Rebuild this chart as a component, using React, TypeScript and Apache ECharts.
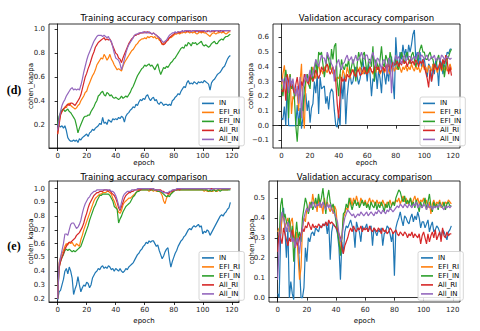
import React, { useEffect, useRef } from "react";
import * as echarts from "echarts";

const SERIES_NAMES = ["IN", "EFI_RI", "EFI_IN", "All_RI", "All_IN"];
const COLORS = ["#1f77b4", "#ff7f0e", "#2ca02c", "#d62728", "#9467bd"];
const X_TICKS = [0, 20, 40, 60, 80, 100, 120];

// (d) Training
const dTrainIN = [
  0.20,0.19,0.18,0.19,0.17,0.19,0.15,0.09,0.07,0.06,
  0.06,0.07,0.06,0.07,0.05,0.08,0.07,0.09,0.10,0.11,
  0.12,0.10,0.13,0.14,0.16,0.15,0.17,0.18,0.19,0.21,
  0.20,0.26,0.21,0.22,0.20,0.24,0.23,0.22,0.25,0.24,
  0.25,0.24,0.26,0.25,0.27,0.26,0.22,0.27,0.29,0.30,
  0.32,0.33,0.35,0.34,0.37,0.36,0.39,0.41,0.40,0.42,
  0.41,0.44,0.45,0.42,0.40,0.42,0.43,0.40,0.41,0.38,
  0.37,0.39,0.38,0.36,0.37,0.37,0.36,0.37,0.36,0.40,
  0.41,0.43,0.44,0.46,0.45,0.48,0.50,0.52,0.51,0.55,
  0.57,0.54,0.55,0.54,0.56,0.55,0.54,0.56,0.55,0.56,
  0.55,0.57,0.56,0.55,0.54,0.49,0.55,0.57,0.58,0.60,
  0.62,0.63,0.64,0.66,0.68,0.69,0.72,0.75,0.77,0.78,
];
const dTrainEFI_RI = [
  0.12,0.22,0.29,0.31,0.33,0.35,0.34,0.37,0.38,0.36,
  0.35,0.34,0.33,0.34,0.36,0.37,0.40,0.42,0.44,0.47,
  0.48,0.52,0.55,0.58,0.61,0.63,0.66,0.70,0.72,0.74,
  0.76,0.75,0.79,0.77,0.74,0.76,0.79,0.75,0.73,0.70,
  0.68,0.66,0.67,0.66,0.65,0.69,0.72,0.74,0.76,0.78,
  0.80,0.82,0.83,0.85,0.87,0.88,0.90,0.91,0.92,0.92,
  0.93,0.92,0.94,0.93,0.94,0.94,0.93,0.94,0.92,0.93,
  0.91,0.90,0.87,0.88,0.89,0.90,0.91,0.93,0.93,0.94,
  0.95,0.96,0.96,0.97,0.96,0.97,0.97,0.98,0.97,0.98,
  0.98,0.97,0.98,0.97,0.98,0.97,0.96,0.97,0.98,0.97,
  0.98,0.97,0.97,0.96,0.95,0.94,0.96,0.97,0.97,0.96,
  0.97,0.97,0.98,0.97,0.98,0.97,0.96,0.97,0.98,0.98,
];
const dTrainEFI_IN = [
  0.20,0.27,0.30,0.32,0.33,0.31,0.32,0.33,0.31,0.30,
  0.28,0.26,0.24,0.19,0.13,0.17,0.20,0.23,0.26,0.27,
  0.27,0.28,0.28,0.31,0.33,0.35,0.38,0.40,0.44,0.45,
  0.47,0.48,0.45,0.44,0.47,0.46,0.44,0.45,0.43,0.42,
  0.43,0.42,0.41,0.42,0.44,0.42,0.43,0.44,0.43,0.45,
  0.47,0.50,0.52,0.55,0.58,0.61,0.63,0.65,0.67,0.68,
  0.70,0.69,0.70,0.71,0.69,0.70,0.68,0.66,0.69,0.71,
  0.66,0.62,0.65,0.68,0.67,0.69,0.68,0.70,0.72,0.73,
  0.75,0.76,0.78,0.80,0.82,0.84,0.85,0.84,0.87,0.86,
  0.89,0.88,0.86,0.89,0.88,0.89,0.87,0.88,0.89,0.90,
  0.87,0.86,0.87,0.86,0.85,0.86,0.88,0.89,0.90,0.88,
  0.88,0.90,0.91,0.92,0.91,0.93,0.94,0.94,0.95,0.96,
];
const dTrainAll_RI = [
  0.12,0.20,0.28,0.31,0.33,0.34,0.36,0.37,0.36,0.38,
  0.38,0.37,0.36,0.38,0.40,0.42,0.45,0.50,0.55,0.60,
  0.63,0.67,0.70,0.74,0.78,0.81,0.85,0.87,0.89,0.90,
  0.91,0.92,0.93,0.91,0.92,0.91,0.92,0.89,0.86,0.83,
  0.80,0.79,0.76,0.75,0.72,0.76,0.79,0.82,0.85,0.88,
  0.90,0.92,0.93,0.95,0.95,0.96,0.96,0.97,0.97,0.97,
  0.98,0.97,0.98,0.97,0.97,0.96,0.97,0.96,0.95,0.94,
  0.93,0.90,0.88,0.87,0.88,0.90,0.91,0.93,0.94,0.95,
  0.96,0.97,0.97,0.98,0.97,0.98,0.98,0.98,0.99,0.98,
  0.98,0.99,0.98,0.99,0.99,0.98,0.99,0.98,0.99,0.98,
  0.98,0.99,0.98,0.98,0.99,0.98,0.98,0.99,0.98,0.99,
  0.99,0.98,0.99,0.99,0.98,0.99,0.99,0.99,0.99,0.99,
];
const dTrainAll_IN = [
  0.15,0.25,0.31,0.36,0.39,0.41,0.44,0.46,0.48,0.50,
  0.51,0.49,0.50,0.49,0.50,0.49,0.53,0.58,0.64,0.69,
  0.74,0.78,0.81,0.84,0.87,0.90,0.92,0.94,0.95,0.95,
  0.95,0.94,0.95,0.94,0.93,0.94,0.91,0.90,0.85,0.80,
  0.76,0.75,0.74,0.71,0.66,0.70,0.75,0.80,0.84,0.87,
  0.89,0.91,0.93,0.95,0.96,0.96,0.97,0.97,0.97,0.98,
  0.97,0.98,0.97,0.98,0.97,0.96,0.97,0.96,0.95,0.94,
  0.93,0.92,0.90,0.89,0.90,0.91,0.93,0.95,0.96,0.97,
  0.97,0.98,0.97,0.98,0.98,0.98,0.99,0.98,0.99,0.99,
  0.99,0.99,0.98,0.99,0.99,0.99,0.98,0.99,0.99,0.99,
  0.99,0.99,0.98,0.99,0.99,0.98,0.99,0.99,0.99,0.99,
  0.99,0.99,0.98,0.99,0.99,0.99,0.99,0.99,0.99,0.99,
];

// (d) Validation
const dValIN = [
  0.05,0.04,0.13,0.00,0.30,0.00,0.00,0.00,0.00,0.00,
  0.00,0.14,0.00,0.12,-0.02,0.05,0.20,0.22,0.10,0.17,
  0.02,0.12,0.15,0.30,0.22,0.35,0.08,0.33,0.25,0.26,
  0.27,0.15,0.20,0.11,0.22,0.25,0.23,0.10,0.00,-0.01,
  0.08,0.00,0.30,0.18,0.35,0.01,0.20,0.30,0.35,0.28,
  0.30,0.36,0.40,0.33,0.28,0.32,0.38,0.45,0.35,0.40,
  0.30,0.42,0.35,0.20,0.32,0.30,0.38,0.25,0.38,0.32,
  0.22,0.40,0.35,0.28,0.38,0.30,0.42,0.47,0.30,0.18,
  0.60,0.44,0.40,0.50,0.45,0.55,0.48,0.52,0.45,0.55,
  0.50,0.55,0.62,0.65,0.45,0.50,0.42,0.50,0.40,0.45,
  0.45,0.38,0.33,0.42,0.40,0.30,0.42,0.35,0.45,0.40,
  0.27,0.45,0.42,0.35,0.40,0.45,0.50,0.49,0.52,0.52,
];
const dValEFI_RI = [
  0.25,0.35,0.41,0.30,0.22,0.28,0.35,0.08,0.20,0.18,
  0.25,0.22,0.10,0.30,0.42,0.10,-0.02,0.30,0.35,0.32,
  0.30,0.36,0.40,0.35,0.32,0.38,0.42,0.36,0.38,0.35,
  0.40,0.38,0.36,0.40,0.42,0.38,0.35,0.38,0.30,0.33,
  0.32,0.35,0.30,0.38,0.35,0.32,0.40,0.36,0.32,0.38,
  0.38,0.34,0.35,0.40,0.37,0.40,0.36,0.35,0.38,0.35,
  0.38,0.36,0.40,0.37,0.35,0.39,0.36,0.40,0.38,0.35,
  0.37,0.40,0.36,0.38,0.42,0.37,0.35,0.39,0.40,0.37,
  0.40,0.38,0.42,0.39,0.36,0.40,0.38,0.41,0.37,0.40,
  0.38,0.42,0.39,0.37,0.41,0.38,0.40,0.36,0.39,0.42,
  0.38,0.40,0.36,0.41,0.39,0.37,0.42,0.38,0.40,0.36,
  0.39,0.42,0.37,0.40,0.38,0.41,0.37,0.39,0.42,0.38,
];
const dValEFI_IN = [
  0.28,0.20,0.30,0.38,0.30,0.05,0.35,0.25,0.28,0.20,
  0.00,-0.11,0.05,0.00,0.15,0.10,0.25,0.30,0.35,0.28,
  0.25,0.40,0.30,0.35,0.45,0.35,0.50,0.48,0.50,0.42,
  0.33,0.40,0.48,0.45,0.38,0.52,0.45,0.54,0.56,0.30,
  0.20,0.35,0.45,0.40,0.38,0.42,0.40,0.45,0.35,0.40,
  0.45,0.40,0.30,0.42,0.50,0.45,0.40,0.48,0.50,0.42,
  0.35,0.45,0.45,0.40,0.54,0.30,0.45,0.42,0.38,0.45,
  0.54,0.42,0.40,0.48,0.45,0.40,0.50,0.45,0.40,0.42,
  0.45,0.40,0.38,0.45,0.50,0.46,0.42,0.48,0.50,0.45,
  0.42,0.48,0.50,0.45,0.40,0.44,0.48,0.52,0.55,0.50,
  0.50,0.45,0.45,0.48,0.50,0.46,0.45,0.40,0.40,0.45,
  0.48,0.42,0.38,0.45,0.33,0.40,0.45,0.47,0.50,0.52,
];
const dValAll_RI = [
  0.24,0.23,0.30,0.17,0.35,0.30,0.26,0.30,0.25,0.22,
  0.28,0.33,0.25,0.20,0.30,0.27,0.35,0.32,0.30,0.28,
  0.35,0.32,0.30,0.33,0.38,0.35,0.32,0.35,0.40,0.38,
  0.37,0.40,0.42,0.38,0.35,0.37,0.40,0.36,0.30,0.15,
  0.05,0.20,0.33,0.30,0.32,0.30,0.35,0.33,0.34,0.36,
  0.38,0.35,0.33,0.37,0.38,0.34,0.35,0.38,0.40,0.36,
  0.35,0.38,0.40,0.37,0.36,0.39,0.42,0.38,0.40,0.36,
  0.38,0.40,0.37,0.41,0.39,0.42,0.38,0.40,0.43,0.41,
  0.42,0.44,0.40,0.43,0.41,0.45,0.42,0.44,0.40,0.43,
  0.45,0.42,0.44,0.41,0.45,0.43,0.40,0.44,0.42,0.45,
  0.40,0.36,0.32,0.26,0.38,0.30,0.35,0.42,0.40,0.38,
  0.40,0.43,0.38,0.45,0.42,0.48,0.44,0.35,0.40,0.34,
];
const dValAll_IN = [
  0.30,0.32,0.25,0.33,0.30,0.22,0.33,0.27,0.32,0.25,
  0.20,0.27,0.15,0.33,0.05,0.25,0.30,0.35,0.30,0.33,
  0.38,0.33,0.35,0.40,0.45,0.42,0.40,0.44,0.48,0.46,
  0.46,0.42,0.50,0.47,0.45,0.42,0.40,0.30,0.40,0.43,
  0.45,0.40,0.38,0.42,0.43,0.46,0.48,0.44,0.45,0.47,
  0.42,0.45,0.48,0.44,0.45,0.47,0.50,0.46,0.45,0.48,
  0.48,0.44,0.42,0.47,0.50,0.45,0.40,0.46,0.45,0.42,
  0.38,0.44,0.45,0.42,0.35,0.46,0.45,0.22,0.40,0.44,
  0.48,0.45,0.47,0.45,0.42,0.46,0.48,0.44,0.45,0.47,
  0.47,0.44,0.46,0.47,0.45,0.48,0.50,0.46,0.48,0.47,
  0.45,0.47,0.48,0.44,0.45,0.47,0.46,0.48,0.44,0.46,
  0.46,0.44,0.48,0.47,0.45,0.46,0.47,0.46,0.45,0.46,
];

// (e) Training
const eTrainIN = [
  0.19,0.25,0.26,0.30,0.34,0.40,0.42,0.38,0.43,0.40,
  0.35,0.23,0.27,0.30,0.36,0.30,0.25,0.28,0.30,0.29,
  0.32,0.31,0.28,0.30,0.35,0.37,0.39,0.40,0.42,0.41,
  0.43,0.44,0.42,0.43,0.42,0.44,0.43,0.41,0.42,0.40,
  0.42,0.41,0.40,0.42,0.40,0.39,0.40,0.42,0.41,0.43,
  0.44,0.45,0.46,0.48,0.50,0.52,0.53,0.55,0.56,0.58,
  0.59,0.61,0.60,0.62,0.61,0.62,0.62,0.60,0.58,0.59,
  0.55,0.52,0.49,0.51,0.54,0.56,0.57,0.49,0.43,0.47,
  0.50,0.53,0.55,0.58,0.60,0.62,0.63,0.65,0.66,0.68,
  0.70,0.71,0.70,0.72,0.73,0.72,0.73,0.74,0.72,0.73,
  0.67,0.69,0.68,0.70,0.69,0.66,0.68,0.70,0.72,0.74,
  0.76,0.78,0.80,0.81,0.80,0.82,0.83,0.85,0.86,0.90,
];
const eTrainEFI_RI = [
  0.20,0.46,0.50,0.53,0.55,0.58,0.60,0.59,0.61,0.60,
  0.61,0.59,0.58,0.60,0.59,0.58,0.63,0.66,0.70,0.73,
  0.76,0.79,0.82,0.85,0.88,0.91,0.93,0.94,0.95,0.96,
  0.96,0.97,0.97,0.97,0.98,0.98,0.97,0.96,0.93,0.91,
  0.88,0.85,0.83,0.82,0.84,0.88,0.90,0.91,0.92,0.93,
  0.93,0.94,0.95,0.96,0.97,0.98,0.99,0.99,0.99,0.99,
  0.99,0.99,0.99,0.98,0.99,0.99,0.98,0.99,0.98,0.98,
  0.98,0.97,0.95,0.91,0.89,0.93,0.95,0.96,0.96,0.98,
  0.98,0.99,0.99,0.99,0.99,0.99,0.99,0.99,0.99,0.99,
  0.99,0.99,0.99,0.99,0.99,0.99,0.99,0.99,0.99,0.99,
  0.99,0.98,0.99,0.98,0.98,0.98,0.98,0.98,0.99,0.98,
  0.98,0.99,0.99,0.99,0.99,0.99,0.99,0.99,1.00,1.00,
];
const eTrainEFI_IN = [
  0.20,0.43,0.47,0.50,0.52,0.55,0.56,0.55,0.56,0.55,
  0.54,0.55,0.54,0.55,0.56,0.57,0.58,0.61,0.64,0.67,
  0.70,0.73,0.77,0.80,0.83,0.86,0.88,0.91,0.93,0.95,
  0.95,0.96,0.96,0.96,0.96,0.96,0.95,0.93,0.91,0.87,
  0.86,0.85,0.75,0.78,0.80,0.83,0.85,0.87,0.88,0.89,
  0.90,0.92,0.94,0.95,0.97,0.98,0.98,0.99,0.99,0.99,
  0.99,0.99,0.99,0.99,0.99,0.99,0.99,0.99,0.99,0.98,
  0.98,0.98,0.97,0.96,0.95,0.94,0.95,0.94,0.96,0.97,
  0.98,0.99,0.99,0.99,0.99,0.99,0.99,0.99,0.99,0.99,
  0.99,0.99,0.99,0.99,0.99,0.99,0.99,0.99,0.99,0.99,
  0.99,0.99,0.99,0.99,0.98,0.99,0.98,0.99,0.99,0.98,
  0.99,0.99,0.98,0.99,0.99,0.99,0.99,0.99,0.99,0.99,
];
const eTrainAll_RI = [
  0.20,0.42,0.47,0.50,0.53,0.56,0.58,0.60,0.61,0.61,
  0.62,0.63,0.64,0.66,0.67,0.68,0.70,0.72,0.75,0.79,
  0.82,0.86,0.89,0.91,0.93,0.95,0.96,0.97,0.97,0.98,
  0.98,0.98,0.99,0.99,0.99,0.98,0.99,0.97,0.96,0.95,
  0.93,0.90,0.86,0.84,0.87,0.90,0.93,0.95,0.96,0.97,
  0.97,0.98,0.98,0.99,0.99,0.99,0.99,0.99,1.00,1.00,
  1.00,1.00,1.00,1.00,0.99,1.00,1.00,0.99,0.99,0.99,
  0.99,0.99,0.98,0.98,0.97,0.97,0.96,0.97,0.98,0.98,
  0.99,0.99,0.99,1.00,0.99,1.00,1.00,1.00,1.00,1.00,
  1.00,1.00,1.00,1.00,1.00,1.00,1.00,1.00,1.00,1.00,
  1.00,1.00,1.00,1.00,1.00,1.00,1.00,1.00,1.00,1.00,
  1.00,1.00,1.00,1.00,1.00,1.00,1.00,1.00,1.00,1.00,
];
const eTrainAll_IN = [
  0.20,0.45,0.50,0.55,0.60,0.67,0.67,0.66,0.70,0.74,
  0.75,0.75,0.73,0.71,0.72,0.74,0.77,0.82,0.86,0.89,
  0.91,0.93,0.94,0.96,0.97,0.98,0.98,0.99,0.99,0.99,
  0.99,0.99,0.99,0.99,0.99,0.99,0.99,0.98,0.98,0.97,
  0.95,0.92,0.88,0.85,0.90,0.94,0.96,0.97,0.98,0.98,
  0.98,0.99,0.99,0.99,0.99,1.00,1.00,1.00,1.00,1.00,
  1.00,1.00,1.00,1.00,1.00,1.00,1.00,0.99,0.99,0.99,
  0.99,0.98,0.98,0.97,0.97,0.97,0.97,0.98,0.98,0.99,
  0.99,0.99,1.00,1.00,1.00,1.00,1.00,1.00,1.00,1.00,
  1.00,1.00,1.00,1.00,1.00,1.00,1.00,1.00,1.00,1.00,
  1.00,1.00,1.00,1.00,1.00,1.00,0.99,1.00,1.00,1.00,
  1.00,1.00,1.00,1.00,1.00,1.00,1.00,1.00,1.00,1.00,
];

// (e) Validation
const eValIN = [
  0.02,0.00,0.30,0.42,0.45,0.33,0.20,0.35,0.00,0.08,
  0.02,-0.01,0.30,0.28,0.30,0.15,0.00,0.00,0.05,0.25,
  0.18,0.30,0.28,0.32,0.33,0.31,0.35,0.34,0.33,0.36,
  0.35,0.37,0.36,0.38,0.32,0.38,0.19,0.33,0.37,0.36,
  0.35,0.32,0.25,0.09,0.28,0.22,0.33,0.36,0.35,0.37,
  0.39,0.36,0.34,0.25,0.38,0.35,0.33,0.28,0.36,0.34,
  0.35,0.37,0.33,0.35,0.36,0.26,0.35,0.33,0.31,0.34,
  0.33,0.35,0.26,0.32,0.33,0.36,0.35,0.32,0.28,0.33,
  0.11,0.35,0.38,0.40,0.43,0.39,0.36,0.41,0.40,0.38,
  0.37,0.40,0.42,0.38,0.41,0.39,0.43,0.40,0.35,0.38,
  0.38,0.35,0.37,0.39,0.33,0.36,0.38,0.33,0.34,0.36,
  0.35,0.33,0.30,0.34,0.33,0.31,0.29,0.33,0.34,0.36,
];
const eValEFI_RI = [
  0.33,0.35,0.32,0.40,0.42,0.35,0.38,0.40,0.33,0.38,
  0.40,0.32,0.28,0.33,0.20,0.09,0.15,0.35,0.40,0.38,
  0.45,0.43,0.48,0.45,0.52,0.47,0.48,0.43,0.50,0.45,
  0.47,0.42,0.50,0.45,0.48,0.45,0.43,0.46,0.42,0.46,
  0.44,0.35,0.30,0.22,0.30,0.40,0.42,0.45,0.44,0.47,
  0.50,0.46,0.50,0.47,0.51,0.48,0.46,0.50,0.48,0.47,
  0.49,0.46,0.48,0.50,0.47,0.49,0.48,0.46,0.49,0.47,
  0.48,0.46,0.49,0.47,0.45,0.48,0.47,0.49,0.46,0.48,
  0.47,0.49,0.48,0.50,0.47,0.49,0.51,0.48,0.50,0.47,
  0.48,0.50,0.47,0.49,0.51,0.48,0.50,0.47,0.49,0.48,
  0.50,0.47,0.49,0.45,0.48,0.42,0.47,0.49,0.46,0.48,
  0.47,0.49,0.45,0.48,0.46,0.48,0.47,0.49,0.48,0.47,
];
const eValEFI_IN = [
  0.31,0.30,0.46,0.50,0.40,0.42,0.38,0.36,0.40,0.30,
  0.36,0.18,0.30,0.38,0.30,0.33,0.28,0.40,0.45,0.50,
  0.47,0.42,0.45,0.48,0.44,0.46,0.50,0.46,0.52,0.47,
  0.50,0.55,0.48,0.42,0.50,0.54,0.48,0.45,0.47,0.43,
  0.38,0.33,0.28,0.21,0.30,0.42,0.43,0.47,0.45,0.50,
  0.47,0.44,0.47,0.49,0.46,0.48,0.45,0.47,0.49,0.46,
  0.48,0.45,0.47,0.44,0.48,0.46,0.45,0.48,0.44,0.47,
  0.45,0.48,0.46,0.43,0.47,0.45,0.48,0.44,0.46,0.48,
  0.46,0.50,0.52,0.54,0.53,0.50,0.48,0.51,0.47,0.49,
  0.47,0.50,0.46,0.48,0.45,0.49,0.46,0.43,0.48,0.45,
  0.47,0.50,0.44,0.48,0.52,0.46,0.43,0.48,0.45,0.47,
  0.44,0.48,0.46,0.45,0.48,0.44,0.47,0.48,0.46,0.46,
];
const eValAll_RI = [
  0.23,0.33,0.30,0.27,0.35,0.32,0.29,0.26,0.30,0.28,
  0.34,0.30,0.25,0.28,0.26,0.30,0.32,0.35,0.33,0.36,
  0.35,0.38,0.36,0.34,0.37,0.35,0.36,0.35,0.37,0.36,
  0.35,0.37,0.36,0.38,0.36,0.39,0.37,0.38,0.37,0.36,
  0.35,0.34,0.32,0.30,0.25,0.22,0.26,0.28,0.30,0.33,
  0.35,0.33,0.36,0.34,0.33,0.35,0.34,0.36,0.33,0.35,
  0.34,0.35,0.33,0.36,0.34,0.33,0.35,0.34,0.33,0.35,
  0.34,0.32,0.35,0.33,0.34,0.32,0.33,0.35,0.34,0.32,
  0.33,0.34,0.32,0.31,0.33,0.32,0.31,0.33,0.32,0.30,
  0.32,0.31,0.33,0.30,0.32,0.31,0.30,0.32,0.27,0.31,
  0.33,0.30,0.27,0.32,0.28,0.31,0.33,0.30,0.34,0.29,
  0.31,0.33,0.28,0.35,0.31,0.30,0.33,0.31,0.32,0.32,
];
const eValAll_IN = [
  0.09,0.25,0.38,0.43,0.40,0.37,0.33,0.38,0.35,0.32,
  0.28,0.30,0.25,0.30,0.28,0.22,0.30,0.35,0.40,0.43,
  0.45,0.43,0.47,0.45,0.48,0.47,0.45,0.47,0.46,0.48,
  0.45,0.48,0.46,0.44,0.47,0.45,0.47,0.44,0.43,0.42,
  0.40,0.38,0.32,0.28,0.30,0.36,0.40,0.42,0.44,0.43,
  0.42,0.41,0.42,0.40,0.41,0.42,0.41,0.43,0.42,0.41,
  0.42,0.43,0.41,0.42,0.43,0.42,0.41,0.43,0.42,0.44,
  0.43,0.42,0.44,0.43,0.42,0.44,0.43,0.45,0.44,0.43,
  0.44,0.45,0.46,0.45,0.47,0.46,0.45,0.47,0.46,0.45,
  0.47,0.46,0.45,0.47,0.46,0.48,0.45,0.47,0.46,0.45,
  0.47,0.46,0.44,0.47,0.45,0.46,0.44,0.46,0.45,0.46,
  0.45,0.47,0.46,0.45,0.44,0.46,0.45,0.46,0.45,0.46,
];

const PANELS = [
  { title: "Training accuracy comparison", data: [dTrainIN, dTrainEFI_RI, dTrainEFI_IN, dTrainAll_RI, dTrainAll_IN], yMin: 0.003, yMax: 1.045, yTicks: [0.2, 0.4, 0.6, 0.8, 1.0] },
  { title: "Validation accuracy comparison", data: [dValIN, dValEFI_RI, dValEFI_IN, dValAll_RI, dValAll_IN], yMin: -0.152, yMax: 0.691, yTicks: [-0.1, 0.0, 0.1, 0.2, 0.3, 0.4, 0.5, 0.6] },
  { title: "Training accuracy comparison", data: [eTrainIN, eTrainEFI_RI, eTrainEFI_IN, eTrainAll_RI, eTrainAll_IN], yMin: 0.176, yMax: 1.055, yTicks: [0.2, 0.3, 0.4, 0.5, 0.6, 0.7, 0.8, 0.9, 1.0] },
  { title: "Validation accuracy comparison", data: [eValIN, eValEFI_RI, eValEFI_IN, eValAll_RI, eValAll_IN], yMin: -0.022, yMax: 0.585, yTicks: [0.0, 0.1, 0.2, 0.3, 0.4, 0.5] },
];

// layout (pixels)
const GRIDS = [
  { left: 49, top: 24, width: 190, height: 124 },
  { left: 273, top: 24, width: 187, height: 124 },
  { left: 49, top: 181, width: 190, height: 121 },
  { left: 269, top: 181, width: 191, height: 121 },
];
const Y_NAME_GAP = [14.5, 18.5, 14.5, 14];
const X_NAME_GAP = [11.5, 11.5, 15, 15];
const LEGEND_POS = [
  { left: 199, top: 97 },
  { left: 420, top: 97 },
  { left: 199, top: 251.5 },
  { left: 418, top: 251.5 },
];

const FONT = "DejaVu Sans";

function fmtTick(v: number) {
  const s = Math.abs(v).toFixed(1);
  return v < -1e-9 ? "\u2212" + s : s;
}

export default function App() {
  const ref = useRef<HTMLDivElement>(null);
  useEffect(() => {
    if (!ref.current) return;
    const chart = echarts.init(ref.current, undefined, { renderer: "svg" });
    const grid = GRIDS.map((g) => ({ ...g, show: true, borderColor: "#000", borderWidth: 0.8, backgroundColor: "transparent", containLabel: false }));
    const xAxis = PANELS.map((_, i) => ({
      gridIndex: i,
      type: "value",
      min: -5.95,
      max: 124.95,
      name: "epoch",
      nameLocation: "middle",
      nameGap: X_NAME_GAP[i],
      nameMoveOverlap: false,
      nameTextStyle: { fontSize: 7, fontFamily: FONT, color: "#000" },
      axisLine: { show: true, lineStyle: { color: "#000", width: 0.8 } },
      axisTick: { show: true, length: 3, lineStyle: { color: "#000", width: 0.8 }, customValues: X_TICKS },
      axisLabel: { show: true, fontSize: 7, fontFamily: FONT, color: "#222", margin: 4, customValues: X_TICKS, formatter: (v: number) => String(Math.round(v)) },
      splitLine: { show: false },
    }));
    const yAxis = PANELS.map((p, i) => ({
      gridIndex: i,
      type: "value",
      min: p.yMin,
      max: p.yMax,
      name: "cohen_kappa",
      nameLocation: "middle",
      nameGap: Y_NAME_GAP[i],
      nameMoveOverlap: false,
      nameRotate: 90,
      nameTextStyle: { fontSize: 7, fontFamily: FONT, color: "#000" },
      axisLine: { show: true, lineStyle: { color: "#000", width: 0.8 } },
      axisTick: { show: true, length: 3, lineStyle: { color: "#000", width: 0.8 }, customValues: p.yTicks },
      axisLabel: { show: true, fontSize: 7, fontFamily: FONT, color: "#222", margin: 4, customValues: p.yTicks, formatter: (v: number) => fmtTick(v) },
      splitLine: { show: false },
    }));
    const series: any[] = [];
    PANELS.forEach((p, i) => {
      p.data.forEach((arr, k) => {
        series.push({
          type: "line",
          name: SERIES_NAMES[k],
          xAxisIndex: i,
          yAxisIndex: i,
          data: arr.map((v, ep) => [ep, v]),
          showSymbol: false,
          symbol: "none",
          lineStyle: { color: COLORS[k], width: 1.2 },
          itemStyle: { color: COLORS[k] },
          clip: true,
        });
      });
    });
    const legend = LEGEND_POS.map((pos) => ({
      ...pos,
      orient: "vertical",
      data: SERIES_NAMES.map((n) => ({ name: n, icon: "rect" })),
      itemWidth: 12,
      itemHeight: 1.6,
      itemGap: 1.2,
      padding: [2.5, 4, 2.5, 3],
      borderColor: "#cccccc",
      borderWidth: 0.8,
      borderRadius: 2,
      backgroundColor: "rgba(255,255,255,0.85)",
      selectedMode: false,
      textStyle: { fontSize: 7, fontFamily: FONT, color: "#000", lineHeight: 7.8 },
    }));
    const titleCenters = GRIDS.map((g) => g.left + g.width / 2);
    const titleY = [18, 18, 176.5, 176.5];
    const graphic: any[] = PANELS.map((p, i) => ({
      type: "text",
      x: titleCenters[i],
      y: titleY[i],
      style: { text: p.title, fontSize: 8.5, fontFamily: FONT, fill: "#000", align: "center", verticalAlign: "middle" },
    }));
    graphic.push(
      { type: "text", x: 14, y: 90, style: { text: "(d)", fontSize: 12, fontWeight: "bold", fontFamily: "Liberation Serif", fill: "#000", align: "center", verticalAlign: "middle" } },
      { type: "text", x: 14, y: 246, style: { text: "(e)", fontSize: 12, fontWeight: "bold", fontFamily: "Liberation Serif", fill: "#000", align: "center", verticalAlign: "middle" } }
    );
    chart.setOption({
      animation: false,
      backgroundColor: "#ffffff",
      textStyle: { fontFamily: FONT },
      grid,
      xAxis,
      yAxis,
      legend,
      series,
      graphic,
    });
    return () => chart.dispose();
  }, []);
  return <div ref={ref} style={{ position: "fixed", left: 0, top: 0, width: 480, height: 331 }} />;
}
